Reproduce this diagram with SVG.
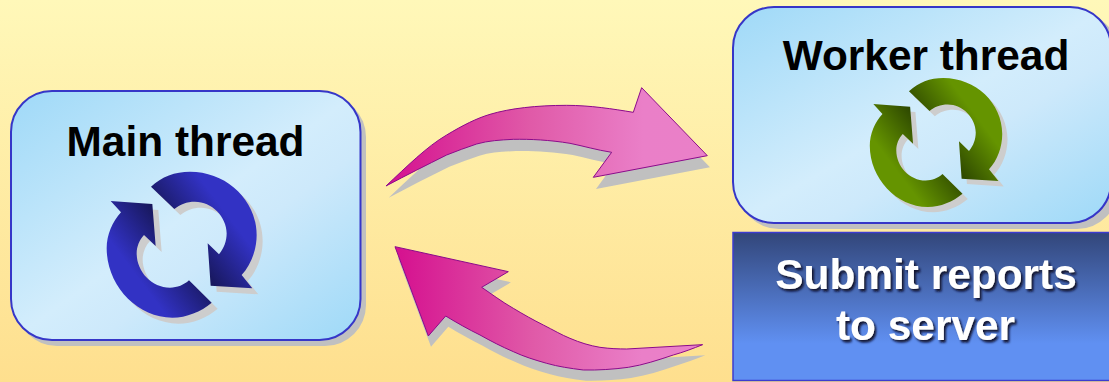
<svg xmlns="http://www.w3.org/2000/svg" width="1109" height="382" viewBox="0 0 1109 382">
<style>
.title{font-family:"Liberation Sans",Arial,sans-serif;font-weight:700;font-size:42.400px;text-anchor:middle;fill:#000}
.light{fill:#fff;filter:url(#ts)}
.box{fill:url(#boxG);stroke:#3636c8;stroke-width:2}
.shadow{fill:#c0c0c0}
.ishadow{fill:#cdcdcd}
.arrow{fill:url(#arrG);stroke:#8b0a8b;stroke-width:3;stroke-linejoin:miter}
</style>
<defs>
<linearGradient id="bg" x1="0" y1="0" x2="0" y2="1"><stop offset="0" stop-color="#fff8b9"/><stop offset="1" stop-color="#fedf8e"/></linearGradient>
<linearGradient id="boxG" x1="0" y1="0" x2="1" y2="1"><stop offset="0.05" stop-color="#a4dbf8"/><stop offset="0.5" stop-color="#d3edfc"/><stop offset="0.62" stop-color="#cde9fb"/><stop offset="0.95" stop-color="#a4dbf8"/></linearGradient>
<linearGradient id="subG" x1="0" y1="0" x2="0" y2="1"><stop offset="0" stop-color="#32467a"/><stop offset="0.75" stop-color="#6090f2"/><stop offset="1" stop-color="#6090f2"/></linearGradient>
<linearGradient id="arrG" x1="0" y1="0" x2="1" y2="0"><stop offset="0" stop-color="#d5108f"/><stop offset="0.45" stop-color="#e05aa8"/><stop offset="0.8" stop-color="#ea7fc8"/><stop offset="1" stop-color="#ea80c8"/></linearGradient>
<linearGradient id="bu" gradientUnits="userSpaceOnUse" x1="600" y1="420" x2="472" y2="516"><stop offset="0" stop-color="#3232c4"/><stop offset="1" stop-color="#18185e"/></linearGradient>
<linearGradient id="bl" gradientUnits="userSpaceOnUse" x1="-80" y1="60" x2="48" y2="-36"><stop offset="0" stop-color="#3232c4"/><stop offset="1" stop-color="#18185e"/></linearGradient>
<linearGradient id="gu" gradientUnits="userSpaceOnUse" x1="600" y1="420" x2="472" y2="516"><stop offset="0" stop-color="#659400"/><stop offset="1" stop-color="#2f4a00"/></linearGradient>
<linearGradient id="gl" gradientUnits="userSpaceOnUse" x1="-80" y1="60" x2="48" y2="-36"><stop offset="0" stop-color="#659400"/><stop offset="1" stop-color="#2f4a00"/></linearGradient>
<path id="cu" d="M168 65C200 35 240 20 285 20C395 20 485 105 485 210C485 255 468 300 440 330L472 370L347 362L338 235L372 268C387 250 395 228 395 205C395 155 350 110 300 110C275 110 255 118 238 132Z"/>
<path id="cl" d="M350 413C318 440 275 458 232 458C125 458 35 360 35 250C35 210 52 170 78 142L47 108L172 117L182 243L147 210C133 225 125 245 125 265C125 320 170 368 225 368C247 368 267 360 282 346Z"/>
<path id="a1" d="M48 348C110 290 170 230 230 195C280 165 320 145 360 133C420 115 500 106 590 106C660 106 730 117 790 127L815 53L1012 257L670 322L725 247C680 240 640 228 600 220C540 210 480 207 430 208C390 210 355 212 320 222C290 232 260 243 230 255C170 285 110 315 48 348Z"/>
<path id="a2" d="M45 50L385 125L305 172C335 192 365 215 400 235C430 253 460 270 490 285C520 300 545 315 570 325C600 338 630 347 660 352C690 356 715 357 740 357L968 344C940 355 910 367 880 375C835 390 790 405 745 412C700 418 655 421 610 420C570 415 535 410 500 400C465 390 432 380 400 365C365 350 332 333 300 315C265 298 230 278 197 258L145 318Z"/>
<filter id="ts" x="-10%" y="-20%" width="120%" height="150%"><feDropShadow dx="2" dy="2.5" stdDeviation="0.8" flood-color="#0a0a28" flood-opacity="0.95"/></filter>
</defs>
<rect id="background" width="1109" height="382" fill="url(#bg)"/>
<g id="connectors">
<g transform="translate(370 70) scale(.3333)">
<use href="#a1" class="shadow" x="8" y="35"/>
<use href="#a1" class="arrow"/>
</g>
<g transform="translate(380 230) scale(.3333)">
<use href="#a2" class="shadow" x="8" y="32"/>
<use href="#a2" class="arrow"/>
</g>
</g>
<g id="main-thread">
<rect class="shadow" x="16" y="96" width="350" height="250" rx="41"/>
<rect class="box" x="11" y="91" width="349.500" height="249" rx="41"/>
<text class="title" x="185.500" y="156">Main thread</text>
<g transform="translate(95 165) scale(.3333)">
<use href="#cu" class="ishadow" x="18" y="18"/>
<use href="#cl" class="ishadow" x="18" y="18"/>
<use href="#cu" fill="url(#bu)"/>
<use href="#cl" fill="url(#bl)"/>
</g>
</g>
<g id="worker-thread">
<rect class="shadow" x="738" y="12" width="380" height="217" rx="41"/>
<rect class="box" x="733" y="7" width="378" height="216" rx="41"/>
<text class="title" x="926" y="70">Worker thread</text>
<g transform="translate(859.500 72.200) scale(.2943)">
<use href="#cu" class="ishadow" x="18" y="18"/>
<use href="#cl" class="ishadow" x="18" y="18"/>
<use href="#cu" fill="url(#gu)"/>
<use href="#cl" fill="url(#gl)"/>
</g>
</g>
<g id="submit-reports">
<rect x="733" y="232.500" width="380" height="148" fill="url(#subG)" stroke="#3c3cd0" stroke-width="1.500"/>
<text class="title light" x="926" y="289">Submit reports</text>
<text class="title light" x="925.500" y="340">to server</text>
</g>
</svg>
